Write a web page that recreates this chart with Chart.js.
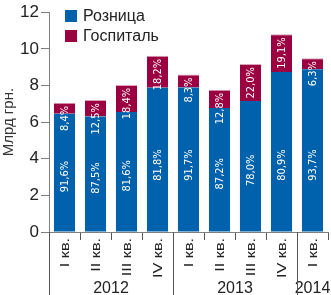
<!DOCTYPE html>
<html>
<head>
<meta charset="utf-8">
<script src="https://cdn.jsdelivr.net/npm/chart.js@4/dist/chart.umd.min.js"></script>
<style>
html,body{margin:0;padding:0;background:#fff;}
#wrap{width:331px;height:295px;position:relative;}
</style>
</head>
<body>
<div id="wrap"><canvas id="c" width="331" height="295"></canvas></div>
<script>
const categories = ['I кв.','II кв.','III кв.','IV кв.','I кв.','II кв.','III кв.','IV кв.','I кв.'];
const years = ['2012','2013','2014'];
const yearGroupSizes = [4, 4, 1];
const retail = [6.46, 6.30, 6.55, 7.87, 7.89, 6.77, 7.15, 8.74, 8.89];
const hospital = [0.59, 0.90, 1.48, 1.75, 0.71, 0.99, 2.02, 2.06, 0.60];
const retailPct = ['91,6%','87,5%','81,6%','81,8%','91,7%','87,2%','78,0%','80,9%','93,7%'];
const hospitalPct = ['8,4%','12,5%','18,4%','18,2%','8,3%','12,8%','22,0%','19,1%','6,3%'];
const seriesNames = ['Розница','Госпиталь'];
const yTicks = [0, 2, 4, 6, 8, 10, 12];
const yTitle = 'Млрд грн.';

const BLUE = '#0062AC';
const RED = '#9B0041';
const AXIS = '#808080';
const TXT = '#222222';
const LABEL_FONT = '11px "Liberation Sans Narrow", "DejaVu Sans Condensed", "Arial Narrow", sans-serif';
const BASE_FONT = '"Liberation Sans", Arial, sans-serif';

const overlay = {
  id: 'overlay',
  afterDatasetsDraw(chart) {
    const ctx = chart.ctx;
    const ca = chart.chartArea;
    const xs = chart.scales.x;
    // value labels
    ctx.save();
    ctx.font = LABEL_FONT;
    ctx.fillStyle = '#ffffff';
    ctx.textAlign = 'center';
    ctx.textBaseline = 'middle';
    [0, 1].forEach(di => {
      const meta = chart.getDatasetMeta(di);
      const texts = di === 0 ? retailPct : hospitalPct;
      meta.data.forEach((el, i) => {
        const p = el.getProps(['x', 'y', 'base'], true);
        const top = Math.min(p.y, p.base), bot = Math.max(p.y, p.base);
        const t = texts[i];
        const w = ctx.measureText(t).width;
        let cy;
        if (di === 0) {
          cy = Math.max((top + bot) / 2 + 4, 165);
        } else {
          cy = Math.max((top + bot) / 2, top + w / 2 + 3);
        }
        ctx.save();
        ctx.translate(p.x, cy);
        ctx.rotate(-Math.PI / 2);
        ctx.fillText(t, 0, 1);
        ctx.restore();
      });
    });
    ctx.restore();

    // legend
    ctx.save();
    const lx = 65, ly = 10;
    [BLUE, RED].forEach((c, i) => {
      ctx.fillStyle = c;
      ctx.fillRect(lx, ly + i * 20, 12, 12);
      ctx.fillStyle = TXT;
      ctx.font = '16px ' + BASE_FONT;
      ctx.textAlign = 'left';
      ctx.textBaseline = 'middle';
      ctx.fillText(seriesNames[i], lx + 18, ly + i * 20 + 6.5);
    });
    ctx.restore();

    // category labels (stretched, rotated)
    ctx.save();
    ctx.fillStyle = TXT;
    ctx.font = '12px ' + BASE_FONT;
    ctx.textAlign = 'right';
    ctx.textBaseline = 'middle';
    categories.forEach((t, i) => {
      const x = xs.getPixelForValue(i);
      ctx.save();
      ctx.translate(x + 1, ca.bottom + 6);
      ctx.rotate(-Math.PI / 2);
      ctx.scale(1.35, 1);
      ctx.fillText(t, 0, 0);
      ctx.restore();
    });
    ctx.restore();

    // year groups and separators
    ctx.save();
    ctx.strokeStyle = '#555';
    ctx.lineWidth = 1;
    const half = (xs.getPixelForValue(1) - xs.getPixelForValue(0)) / 2;
    let start = 0;
    const bounds = [ca.left];
    yearGroupSizes.forEach((n, gi) => {
      const x0 = xs.getPixelForValue(start) - half;
      const x1 = xs.getPixelForValue(start + n - 1) + half;
      if (gi > 0) bounds.push(Math.round(x0));
      ctx.fillStyle = TXT;
      ctx.font = '16px ' + BASE_FONT;
      ctx.textAlign = 'center';
      ctx.textBaseline = 'alphabetic';
      ctx.fillText(years[gi], (x0 + x1) / 2, 293);
      start += n;
    });
    bounds.forEach(bx => {
      ctx.beginPath();
      ctx.moveTo(Math.round(bx) + 0.5, ca.bottom);
      ctx.lineTo(Math.round(bx) + 0.5, 295);
      ctx.stroke();
    });
    ctx.restore();
  }
};

new Chart(document.getElementById('c'), {
  type: 'bar',
  data: {
    labels: categories,
    datasets: [
      { label: seriesNames[0], data: retail, backgroundColor: BLUE, borderWidth: 0, barPercentage: 0.68, categoryPercentage: 1 },
      { label: seriesNames[1], data: hospital, backgroundColor: RED, borderColor: '#D9A3B8', borderWidth: { top: 1, left: 0, right: 0, bottom: 0 }, borderSkipped: 'bottom', barPercentage: 0.68, categoryPercentage: 1 }
    ]
  },
  options: {
    responsive: false,
    animation: false,
    devicePixelRatio: 1,
    layout: { padding: { top: 10, right: 3, left: 0, bottom: 0 } },
    plugins: { legend: { display: false }, tooltip: { enabled: false } },
    scales: {
      x: {
        stacked: true,
        afterFit(s) { s.height = 63; },
        grid: { display: true, drawOnChartArea: false, drawTicks: true, tickLength: 8, color: '#555', offset: true },
        border: { display: true, color: AXIS },
        ticks: { display: false, autoSkip: false }
      },
      y: {
        stacked: true,
        min: 0, max: 12,
        afterFit(s) { s.width = 49; },
        afterBuildTicks(s) { s.ticks = yTicks.map(v => ({ value: v })); },
        title: { display: true, text: yTitle, color: '#333', font: { family: BASE_FONT, size: 15 }, padding: 0 },
        grid: { display: true, drawOnChartArea: false, drawTicks: true, tickLength: 8, color: AXIS },
        border: { display: true, color: AXIS },
        ticks: { color: TXT, padding: 2, font: { family: BASE_FONT, size: 17 } }
      }
    }
  },
  plugins: [overlay]
});
</script>
</body>
</html>
